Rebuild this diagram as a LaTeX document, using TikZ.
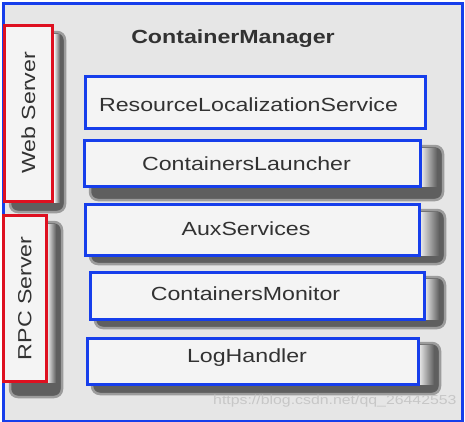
\documentclass[tikz,border=0pt]{standalone}
\usepackage{fontspec}
\newfontfamily\lblfamily{Liberation Sans}[FakeStretch=1.22]
\newcommand\lblfont{\lblfamily\fontsize{19}{19}\selectfont}
\newcommand\titlefont{\lblfamily\bfseries\fontsize{19}{19}\selectfont}
\newcommand\wmfont{\lblfamily\fontsize{13}{13}\selectfont}
\definecolor{bblue}{RGB}{22,62,235}
\definecolor{rred}{RGB}{222,16,32}
\definecolor{txt}{RGB}{50,50,50}
\definecolor{bg}{RGB}{230,230,230}
\definecolor{boxfill}{RGB}{244,244,244}
\definecolor{tabgray}{RGB}{95,95,95}
\begin{document}
\begin{tikzpicture}[x=1pt,y=-1pt,
  comp/.style={draw=bblue, line width=3pt, fill=boxfill, inner sep=0pt, anchor=north west},
  srv/.style={draw=rred, line width=3pt, fill=boxfill, inner sep=0pt, text=txt, font=\lblfont, rotate=90},
  lbl/.style={text=txt, font=\lblfont, inner sep=0pt, anchor=base},
  tab/.style={fill=tabgray, rounded corners=8pt, draw=tabgray!55!bg, line width=2.5pt},
  glow/.style={left color=boxfill, right color=tabgray},
]
\useasboundingbox (0,0) rectangle (465,421);
\fill[white] (0,0) rectangle (465,421);
\fill[bg] (1.5,1.5) rectangle (460.5,419.5);
% 3D tabs behind the boxes
\filldraw[tab] (10,32) rectangle (65,212);
\shade[glow] (54,34) rectangle (60,202);
\filldraw[tab] (10,222) rectangle (62,397);
\shade[glow] (47,224) rectangle (56,382);
\filldraw[tab] (90,146) rectangle (443,200);
\shade[glow] (420,148) rectangle (437,186);
\filldraw[tab] (90,210) rectangle (445,264);
\shade[glow] (419,212) rectangle (439,255);
\filldraw[tab] (95,277) rectangle (445,328);
\shade[glow] (424,279) rectangle (439,319);
\filldraw[tab] (92,343) rectangle (440,394);
\shade[glow] (418,345) rectangle (434,384);
% outer frame
\node[draw=bblue, line width=3pt, minimum width=459, minimum height=418, anchor=north west, inner sep=0pt] (frame) at (1.5,1.5) {};
% title
\node[lbl, font=\titlefont] (title) at (233,43.3) {ContainerManager};
% servers
\node[srv, minimum width=176, minimum height=48.5] (web) at (28.25,113) {Web Server};
\node[srv, minimum width=165.5, minimum height=42.5] (rpc) at (24.75,298.25) {RPC Server};
% components
\node[comp, minimum width=340, minimum height=51.5] (rls) at (83.5,75) {};
\node[comp, minimum width=336, minimum height=45.5] (cl) at (82.5,139) {};
\node[comp, minimum width=334, minimum height=50.5] (aux) at (83.5,203) {};
\node[comp, minimum width=333.5, minimum height=47.5] (mon) at (89,270.5) {};
\node[comp, minimum width=331, minimum height=46] (log) at (85.5,336.5) {};
\node[lbl] (rlsT) at (248.5,111.7) {ResourceLocalizationService};
\node[lbl] (clT) at (246.5,170) {ContainersLauncher};
\node[lbl] (auxT) at (246,235.5) {AuxServices};
\node[lbl] (monT) at (245.5,300) {ContainersMonitor};
\node[lbl] (logT) at (247,362) {LogHandler};
% watermark
\node[font=\wmfont, text=black!22, inner sep=0pt, anchor=base west] (wm) at (213,404) {https://blog.csdn.net/qq\_26442553};
\end{tikzpicture}
\end{document}
